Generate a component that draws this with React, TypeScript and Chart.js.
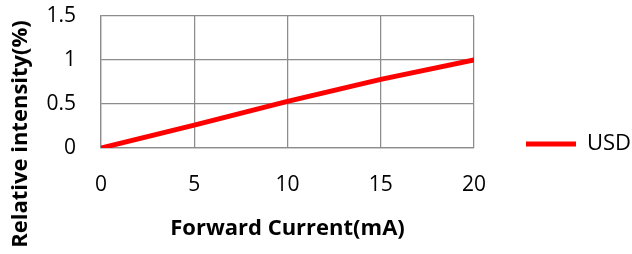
import React, { useEffect, useRef } from "react";
import { Chart, registerables } from "chart.js";

Chart.register(...registerables);

const currentMA = [0, 5, 10, 15, 20];
const usdIntensity = [0, 0.26, 0.53, 0.78, 1.0];
const seriesName = "USD";
const xTitle = "Forward Current(mA)";
const yTitle = "Relative intensity(%)";
const xTicks = { min: 0, max: 20, step: 5 };
const yTicks = { min: 0, max: 1.5, step: 0.5 };

const FONT = '"Open Sans", "Noto Sans", sans-serif';

const yTitlePlugin = {
  id: "yTitleOuter",
  afterDraw(chart: any) {
    const ctx = chart.ctx;
    ctx.save();
    ctx.translate(21, 134);
    ctx.rotate(-Math.PI / 2);
    ctx.font = `bold 22px ${FONT}`;
    ctx.textAlign = "center";
    ctx.textBaseline = "middle";
    ctx.fillStyle = "#000";
    ctx.fillText(yTitle, 0, 0);
    ctx.restore();
  },
};

export default function App() {
  const ref = useRef<HTMLCanvasElement | null>(null);
  useEffect(() => {
    if (!ref.current) return;
    const gridX = { color: "#8c8c8c", lineWidth: 1.25, drawTicks: true, tickLength: 24, tickColor: "rgba(0,0,0,0)" };
    const gridY = { color: "#8c8c8c", lineWidth: 1.25, drawTicks: true, tickLength: 25, tickColor: "rgba(0,0,0,0)" };
    const chart = new Chart(ref.current, {
      type: "line",
      data: {
        datasets: [
          {
            label: seriesName,
            data: currentMA.map((x, i) => ({ x, y: usdIntensity[i] })),
            borderColor: "#ff0000",
            backgroundColor: "#ff0000",
            borderWidth: 5,
            borderCapStyle: "round",
            pointRadius: 0,
            tension: 0,
          },
        ],
      },
      options: {
        animation: false,
        responsive: true,
        maintainAspectRatio: false,
        layout: { padding: { top: 16, left: 0, right: 0, bottom: 0 } },
        plugins: {
          tooltip: { enabled: false },
          legend: {
            position: "right",
            align: "start",
            title: { display: true, text: "", padding: { top: 50.5, bottom: 0 } },
            labels: {
              usePointStyle: true,
              pointStyle: "line",
              pointStyleWidth: 50,
              padding: 52,
              color: "#000",
              font: { family: FONT, size: 22 },
            },
          },
        },
        scales: {
          x: {
            type: "linear",
            min: xTicks.min,
            max: xTicks.max,
            grid: gridX,
            border: { color: "#8c8c8c", width: 1.25 },
            ticks: {
              stepSize: xTicks.step,
              padding: 0,
              color: "#000",
              font: { family: FONT, size: 21 },
              maxRotation: 0,
            },
            title: {
              display: true,
              text: xTitle,
              color: "#000",
              font: { family: FONT, size: 22, weight: "bold" },
              padding: { top: 0, bottom: 12 },
            },
            afterFit: (s: any) => {
              s.height = 106;
            },
          },
          y: {
            min: yTicks.min,
            max: yTicks.max,
            grid: gridY,
            border: { color: "#8c8c8c", width: 1.25 },
            ticks: {
              stepSize: yTicks.step,
              padding: 0,
              color: "#000",
              font: { family: FONT, size: 21 },
              callback: (v: any) => String(+v),
            },
            afterFit: (s: any) => {
              s.width = 101;
            },
          },
        },
      },
      plugins: [yTitlePlugin],
    });
    return () => chart.destroy();
  }, []);
  return (
    <div style={{ position: "fixed", left: 0, top: 0, width: 632, height: 254, background: "#fff" }}>
      <canvas ref={ref} />
    </div>
  );
}
